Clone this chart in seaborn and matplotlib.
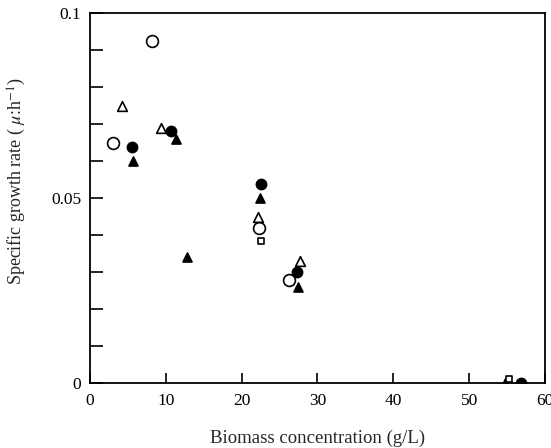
import matplotlib
matplotlib.use("Agg")
import matplotlib.pyplot as plt
import matplotlib.ticker as mticker
import seaborn as sns
import pandas as pd

# Data
open_circle_x = [3.0, 8.2, 22.3, 26.3]
open_circle_y = [0.0649, 0.0924, 0.0419, 0.0278]

open_tri_x = [4.2, 9.4, 22.2, 27.7]
open_tri_y = [0.075, 0.069, 0.045, 0.033]

filled_circle_x = [5.5, 10.7, 22.6, 27.3, 56.9]
filled_circle_y = [0.0638, 0.068, 0.0538, 0.030, 0.0]

filled_tri_x = [5.7, 11.4, 12.8, 22.4, 27.4, 54.7]
filled_tri_y = [0.060, 0.066, 0.034, 0.050, 0.026, 0.0]

open_sq_x = [22.6, 55.3]
open_sq_y = [0.0384, 0.001]

x_ticks = [0, 10, 20, 30, 40, 50, 60]
y_labels = {0.0: "0", 0.05: "0.05", 0.1: "0.1"}

sns.set_style("ticks")
plt.rcParams['font.family'] = ['Liberation Serif', 'DejaVu Serif']
plt.rcParams['mathtext.fontset'] = 'stix'

fig = plt.figure(figsize=(5.51, 4.48), dpi=100)
ax = fig.add_axes([0.163, 0.145, 0.826, 0.826])

series = [
    (open_circle_x, open_circle_y, "o", "white", 8.5),
    (open_tri_x, open_tri_y, "^", "white", 7),
    (filled_circle_x, filled_circle_y, "o", "black", 7.3),
    (filled_tri_x, filled_tri_y, "^", "black", 6.5),
    (open_sq_x, open_sq_y, "s", "white", 4.8),
]
for xs, ys, m, fc, s in series:
    df = pd.DataFrame({"x": xs, "y": ys})
    sns.scatterplot(data=df, x="x", y="y", ax=ax, marker=m, s=s**2,
                    facecolor=fc, edgecolor="black", linewidth=1.2, zorder=3)

ax.set_xlim(0, 60)
ax.set_ylim(0, 0.1)
ax.set_xticks(x_ticks)
ax.yaxis.set_major_locator(mticker.MultipleLocator(0.01))
ax.yaxis.set_major_formatter(mticker.FuncFormatter(
    lambda v, p: y_labels.get(round(v, 3), "")))

for sp in ax.spines.values():
    sp.set_visible(True)
    sp.set_linewidth(1.3)
    sp.set_color("black")

ax.tick_params(axis="both", direction="in", colors="black", labelsize=12.5,
               width=1.2)
ax.tick_params(axis="y", length=9, pad=6)
ax.tick_params(axis="x", length=7, pad=7)

ax.set_xlabel("Biomass concentration (g/L)", fontsize=13.5)
ax.xaxis.set_label_coords(0.5, -0.125)
ax.set_ylabel(r"Specific growth rate ( $\mathit{\mu}$:h$^{-1}$)", fontsize=13)
ax.yaxis.set_label_coords(-0.135, 0.545)

fig.savefig("out.png", dpi=100)
